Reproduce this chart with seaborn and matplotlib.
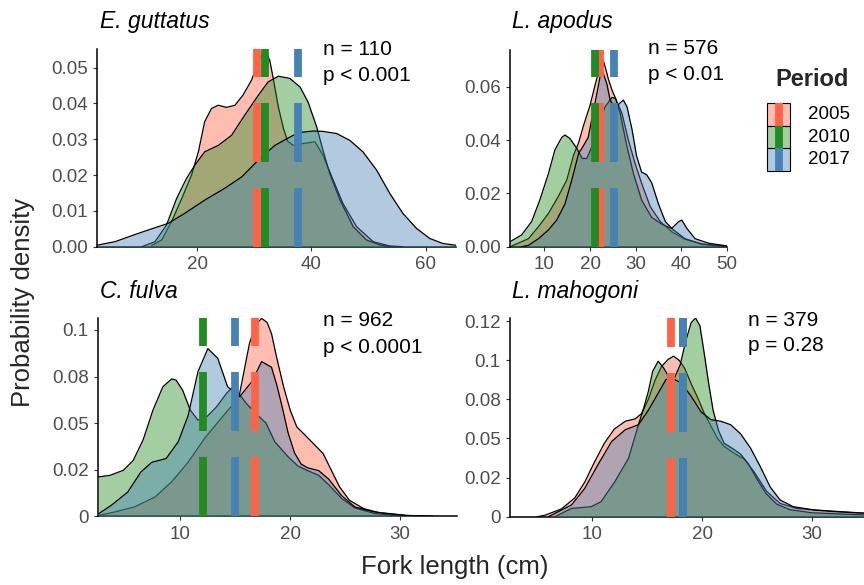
import matplotlib
matplotlib.use("Agg")
import matplotlib.pyplot as plt
import seaborn as sns
import pandas as pd
from matplotlib.patches import Rectangle
from matplotlib.lines import Line2D

# ---------------- data ----------------
periods = ["2005", "2010", "2017"]
line_colors = ["#FF6347", "#228B22", "#4682B4"]

species = ["E. guttatus", "L. apodus", "C. fulva", "L. mahogoni"]
n_labels = ["n = 110", "n = 576", "n = 962", "n = 379"]
p_labels = ["p < 0.001", "p < 0.01", "p < 0.0001", "p = 0.28"]

# E. guttatus density curves
eg_x_2005 = [12.0, 13.8, 15.5, 17.3, 19.0, 20.2, 21.3, 22.5, 23.7, 25.1, 26.6, 28.0, 29.5, 30.7, 31.8,
             32.7, 33.3, 34.2, 35.1, 35.8, 36.8, 38.5, 40.6, 42.0, 43.8, 45.5, 47.9, 50.8, 53.7, 56.0]
eg_y_2005 = [0.0003, 0.0019, 0.007, 0.0135, 0.020, 0.0265, 0.0349, 0.0386, 0.0395, 0.0389, 0.0395, 0.0423,
             0.0465, 0.0516, 0.0550, 0.052, 0.047, 0.039, 0.033, 0.0295, 0.0283, 0.0288, 0.0293, 0.0256,
             0.0186, 0.0121, 0.0056, 0.0014, 0.0002, 0.0]
eg_x_2010 = [10.3, 12.6, 14.6, 16.4, 18.1, 19.6, 21.3, 23.7, 26.0, 28.3, 30.7, 32.4, 34.2, 36.2, 38.0,
             39.4, 40.9, 42.0, 43.2, 45.0, 47.3, 49.6, 52.0, 54.0]
eg_y_2010 = [0.0, 0.0014, 0.006, 0.0135, 0.019, 0.0228, 0.0265, 0.0283, 0.0311, 0.0367, 0.0423, 0.046,
             0.0476, 0.047, 0.0446, 0.0404, 0.0335, 0.027, 0.0204, 0.013, 0.0056, 0.0019, 0.0005, 0.0]
eg_x_2017 = [2.4, 5.6, 9.1, 12.6, 14.9, 17.8, 21.3, 24.8, 27.8, 30.7, 33.6, 36.8, 38.5, 40.3, 42.0,
             44.4, 46.7, 49.0, 51.4, 53.7, 56.0, 58.4, 60.7, 63.0, 65.3]
eg_y_2017 = [0.0004, 0.0014, 0.0034, 0.0053, 0.0065, 0.0093, 0.013, 0.0163, 0.0195, 0.0242, 0.0283,
             0.0311, 0.032, 0.0323, 0.0322, 0.0316, 0.0297, 0.0265, 0.0214, 0.0149, 0.0093, 0.0051,
             0.0023, 0.0009, 0.0004]

# L. apodus density curves
la_x_2005 = [2.5, 6.5, 8.7, 10.9, 13.1, 14.9, 16.4, 17.5, 18.6, 20.0, 21.1, 22.0, 22.7, 23.4, 24.0,
             24.8, 25.9, 27.0, 28.4, 29.9, 31.3, 33.2, 35.4, 37.9, 40.8, 44.5, 48.9, 50.0]
la_y_2005 = [0.0, 0.003, 0.0075, 0.0125, 0.019, 0.025, 0.0344, 0.039, 0.0456, 0.053, 0.0606, 0.0665,
             0.0710, 0.067, 0.063, 0.0588, 0.0544, 0.050, 0.040, 0.031, 0.0238, 0.015, 0.0094, 0.0056,
             0.0028, 0.001, 0.0002, 0.0001]
la_x_2010 = [2.5, 5.0, 7.2, 9.0, 10.9, 12.3, 13.8, 14.5, 15.6, 17.1, 18.3, 19.3, 20.4, 21.8, 23.3,
             24.8, 25.6, 26.6, 28.1, 29.5, 31.3, 33.5, 35.7, 37.9, 40.8, 44.5, 48.9, 50.0]
la_y_2010 = [0.0019, 0.0044, 0.0094, 0.0175, 0.0275, 0.0363, 0.041, 0.0419, 0.0406, 0.0369, 0.0331,
             0.0331, 0.0375, 0.046, 0.0525, 0.056, 0.0556, 0.050, 0.0375, 0.0275, 0.0175, 0.011,
             0.0085, 0.0068, 0.003, 0.001, 0.0002, 0.0001]
la_x_2017 = [5.0, 6.5, 8.7, 10.9, 12.7, 14.5, 16.0, 17.5, 18.6, 19.6, 21.1, 22.2, 22.7, 23.7, 24.4,
             25.5, 26.6, 27.3, 28.1, 29.2, 30.2, 31.3, 32.4, 33.5, 35.0, 36.5, 37.9, 39.4, 40.1,
             41.2, 43.0, 46.0, 49.6, 50.0]
la_y_2017 = [0.0, 0.0005, 0.003, 0.0063, 0.010, 0.016, 0.025, 0.035, 0.038, 0.041, 0.054, 0.0638,
             0.066, 0.061, 0.055, 0.052, 0.054, 0.055, 0.0525, 0.044, 0.034, 0.028, 0.027, 0.024,
             0.016, 0.0094, 0.0069, 0.0094, 0.010, 0.0069, 0.003, 0.0013, 0.0004, 0.0003]

# C. fulva density curves
cf_x_2005 = [2.5, 4.0, 5.8, 7.7, 9.2, 10.7, 12.2, 13.7, 15.0, 15.4, 15.8, 16.3, 16.9, 17.4, 17.9,
             18.3, 18.75, 19.4, 20.0, 20.6, 21.5, 22.4, 23.0, 23.6, 24.5, 25.4, 26.7, 28.2, 30.6, 33.0]
cf_y_2005 = [0.0004, 0.0023, 0.005, 0.0104, 0.0185, 0.029, 0.0418, 0.0525, 0.0615, 0.066, 0.078,
             0.093, 0.103, 0.1062, 0.104, 0.098, 0.0857, 0.0695, 0.057, 0.048, 0.0427, 0.0373,
             0.0337, 0.0265, 0.0158, 0.0086, 0.0041, 0.0018, 0.0004, 0.0]
cf_x_2010 = [2.5, 3.6, 4.8, 5.7, 6.6, 7.5, 8.4, 9.2, 9.6, 10.2, 10.9, 11.6, 12.4, 13.3, 14.2, 14.65,
             15.3, 16.0, 16.9, 17.8, 18.6, 19.8, 20.7, 21.6, 22.6, 23.5, 24.7, 25.9, 27.7, 30.0, 32.0]
cf_y_2010 = [0.0211, 0.022, 0.0247, 0.030, 0.041, 0.057, 0.0695, 0.0737, 0.0731, 0.0677, 0.057,
             0.0516, 0.0534, 0.0588, 0.066, 0.0686, 0.066, 0.0606, 0.055, 0.050, 0.040, 0.032, 0.027,
             0.0245, 0.022, 0.017, 0.0095, 0.0045, 0.0015, 0.0003, 0.0]
cf_x_2017 = [2.5, 3.7, 5.2, 6.4, 7.4, 8.7, 9.8, 10.7, 11.6, 12.5, 13.4, 14.3, 15.4, 16.5, 17.4, 18.3,
             18.8, 19.3, 19.8, 20.4, 21.0, 21.6, 22.6, 23.5, 24.7, 25.9, 27.7, 30.6, 33.0]
cf_y_2017 = [0.0012, 0.0059, 0.013, 0.0238, 0.029, 0.031, 0.040, 0.054, 0.0776, 0.090, 0.0848,
             0.0695, 0.0642, 0.0722, 0.083, 0.080, 0.070, 0.058, 0.045, 0.034, 0.028, 0.026, 0.0245,
             0.020, 0.011, 0.005, 0.0023, 0.0005, 0.0]

# L. mahogoni density curves
lm_x_2005 = [5.0, 5.7, 7.2, 8.4, 9.3, 10.2, 11.1, 12.0, 13.0, 13.9, 14.5, 15.1, 15.7, 16.3, 16.9,
             17.4, 17.9, 18.4, 19.0, 19.6, 20.2, 20.8, 21.4, 22.0, 22.9, 23.8, 24.7, 25.9, 27.1,
             28.6, 32.0, 35.2]
lm_y_2005 = [0.0, 0.001, 0.005, 0.012, 0.022, 0.035, 0.047, 0.056, 0.061, 0.0625, 0.066, 0.075,
             0.087, 0.096, 0.1005, 0.1026, 0.100, 0.095, 0.085, 0.076, 0.066, 0.058, 0.05, 0.045,
             0.0406, 0.037, 0.029, 0.016, 0.0085, 0.0053, 0.0032, 0.002]
lm_x_2010 = [6.6, 8.1, 9.9, 10.8, 12.05, 13.3, 14.2, 14.7, 15.1, 15.5, 16.0, 16.5, 17.0, 17.5, 18.0,
             18.5, 19.0, 19.4, 19.8, 20.2, 20.6, 21.0, 21.5, 22.0, 22.9, 23.5, 24.2, 25.0, 25.8,
             26.8, 28.0, 30.0, 35.2]
lm_y_2010 = [0.0, 0.0053, 0.0064, 0.0096, 0.0224, 0.0374, 0.0588, 0.070, 0.080, 0.093, 0.0994,
             0.095, 0.089, 0.089, 0.097, 0.112, 0.124, 0.127, 0.122, 0.104, 0.085, 0.068, 0.055,
             0.047, 0.043, 0.040, 0.034, 0.024, 0.015, 0.008, 0.0045, 0.0025, 0.001]
lm_x_2017 = [6.0, 8.1, 9.3, 10.5, 11.75, 13.0, 14.2, 15.1, 16.0, 16.7, 17.2, 18.1, 19.0, 19.9, 20.8,
             21.7, 22.6, 23.5, 24.4, 25.3, 26.2, 27.1, 28.3, 30.2, 35.2]
lm_y_2017 = [0.0, 0.0075, 0.018, 0.0331, 0.048, 0.0556, 0.0588, 0.068, 0.079, 0.0876, 0.0887,
             0.0855, 0.077, 0.067, 0.062, 0.061, 0.0588, 0.053, 0.044, 0.032, 0.019, 0.0107, 0.0064,
             0.0043, 0.0021]

# period mean lengths (dashed vertical lines), order 2005, 2010, 2017
eg_means = [30.4, 31.9, 37.6]
la_means = [22.2, 21.1, 25.2]
cf_means = [16.75, 12.05, 14.95]
lm_means = [17.2, 18.3, 18.3]

# axis ticks
eg_xticks = [20, 40, 60]
la_xticks = [10, 20, 30, 40, 50]
cf_xticks = [10, 20, 30]
lm_xticks = [10, 20, 30]
eg_yticks = [0.0, 0.01, 0.02, 0.03, 0.04, 0.05]
eg_ylabels = ["0.00", "0.01", "0.02", "0.03", "0.04", "0.05"]
la_yticks = [0.0, 0.02, 0.04, 0.06]
la_ylabels = ["0.00", "0.02", "0.04", "0.06"]
cf_yticks = [0.0, 0.025, 0.05, 0.075, 0.1]
cf_ylabels = ["0", "0.02", "0.05", "0.08", "0.1"]
lm_yticks = [0.0, 0.025, 0.05, 0.075, 0.1, 0.125]
lm_ylabels = ["0", "0.02", "0.05", "0.08", "0.1", "0.12"]

curves = {
    "E. guttatus": [(eg_x_2005, eg_y_2005), (eg_x_2010, eg_y_2010), (eg_x_2017, eg_y_2017)],
    "L. apodus": [(la_x_2005, la_y_2005), (la_x_2010, la_y_2010), (la_x_2017, la_y_2017)],
    "C. fulva": [(cf_x_2005, cf_y_2005), (cf_x_2010, cf_y_2010), (cf_x_2017, cf_y_2017)],
    "L. mahogoni": [(lm_x_2005, lm_y_2005), (lm_x_2010, lm_y_2010), (lm_x_2017, lm_y_2017)],
}
means = {"E. guttatus": eg_means, "L. apodus": la_means, "C. fulva": cf_means, "L. mahogoni": lm_means}
xticks = {"E. guttatus": eg_xticks, "L. apodus": la_xticks, "C. fulva": cf_xticks, "L. mahogoni": lm_xticks}
yticks = {"E. guttatus": (eg_yticks, eg_ylabels), "L. apodus": (la_yticks, la_ylabels),
          "C. fulva": (cf_yticks, cf_ylabels), "L. mahogoni": (lm_yticks, lm_ylabels)}

# ---------------- styling / layout ----------------
sns.set_theme(style="ticks")
plt.rcParams['font.family'] = ['Liberation Sans', 'DejaVu Sans']
plt.rcParams['lines.scale_dashes'] = False

W, H = 864, 585
fig = plt.figure(figsize=(8.64, 5.85), dpi=100)
fig.patch.set_facecolor("white")

def px_axes(l, t, r, b):
    return fig.add_axes([l / W, 1 - b / H, (r - l) / W, (b - t) / H])

def fx(x):
    return x / W

def fy(y):
    return 1 - y / H

panel_box = {
    "E. guttatus": (97, 49, 456, 246.7),
    "L. apodus": (510, 50, 727, 246.7),
    "C. fulva": (98, 318, 457, 516.3),
    "L. mahogoni": (510, 318, 869, 516.7),
}
xlims = {"E. guttatus": (2.45, 65.3), "L. apodus": (2.47, 50.0),
         "C. fulva": (2.49, 35.2), "L. mahogoni": (2.5, 35.2)}
ylims = {"E. guttatus": 0.0552, "L. apodus": 0.0738, "C. fulva": 0.1064, "L. mahogoni": 0.127}

title_pos = {"E. guttatus": (100, 28), "L. apodus": (512, 28), "C. fulva": (100, 298), "L. mahogoni": (512, 298)}
ann_pos = {"E. guttatus": (323, 55, 81), "L. apodus": (648, 54, 80),
           "C. fulva": (323, 326, 353), "L. mahogoni": (748, 326, 351)}

ALPHA = 0.42
for k, sp in enumerate(species):
    ax = px_axes(*panel_box[sp])
    ax.set_facecolor("white")
    for i, per in enumerate(periods):
        x, y = curves[sp][i]
        df = pd.DataFrame({"length": x, "density": y})
        ax.fill_between(df["length"], df["density"], 0, color=line_colors[i], alpha=ALPHA,
                        lw=0, zorder=1 + 2 * i)
        sns.lineplot(data=df, x="length", y="density", color="black", lw=0.9, ax=ax,
                     sort=False, estimator=None, zorder=2 + 2 * i)
    for i, per in enumerate(periods):
        ax.axvline(means[sp][i], color=line_colors[i], lw=5.6, linestyle=(0, (42.5, 18.7)),
                   solid_capstyle="butt", dash_capstyle="butt", zorder=10)
    ax.set_xlim(*xlims[sp])
    ax.set_ylim(0, ylims[sp])
    ax.set_xticks(xticks[sp])
    yt, yl = yticks[sp]
    ax.set_yticks(yt)
    ax.set_yticklabels(yl)
    ax.set_xlabel("")
    ax.set_ylabel("")
    sns.despine(ax=ax)
    for s in ["left", "bottom"]:
        ax.spines[s].set_linewidth(1.1)
        ax.spines[s].set_color("black")
    ax.tick_params(axis="both", labelsize=13.5, labelcolor="#4D4D4D", color="#333333",
                   length=3.2, width=0.8, pad=3.5)
    ax.grid(False)
    tx, ty = title_pos[sp]
    fig.text(fx(tx), fy(ty), sp, fontsize=16.5, style="italic", color="black", va="baseline", ha="left")
    axn, by1, by2 = ann_pos[sp]
    fig.text(fx(axn), fy(by1), n_labels[k], fontsize=15, color="black", va="baseline", ha="left")
    fig.text(fx(axn), fy(by2), p_labels[k], fontsize=15, color="black", va="baseline", ha="left")

# axis titles
fig.text(fx(23), fy(302), "Probability density", rotation=90, fontsize=18.5, va="center", ha="center")
fig.text(fx(455), fy(567), "Fork length (cm)", fontsize=18.5, va="center", ha="center")

# legend (manual, ggplot style key: filled box + vertical line)
fig.text(fx(775), fy(85.5), "Period", fontsize=17, fontweight="bold", va="baseline", ha="left")
rows = [(103.3, 126.0), (126.0, 148.3), (148.3, 170.5)]
for i, per in enumerate(periods):
    t, b = rows[i]
    rect = Rectangle((fx(767), fy(b)), (790 - 767) / W, (b - t) / H, transform=fig.transFigure,
                     facecolor=line_colors[i], alpha=ALPHA, edgecolor="none")
    fig.add_artist(rect)
    border = Rectangle((fx(767), fy(b)), (790 - 767) / W, (b - t) / H, transform=fig.transFigure,
                       facecolor="none", edgecolor="black", lw=0.8)
    fig.add_artist(border)
    ln = Line2D([fx(778.5), fx(778.5)], [fy(b), fy(t)], transform=fig.transFigure,
                color=line_colors[i], lw=5.6, solid_capstyle="butt")
    fig.add_artist(ln)
    fig.text(fx(808), fy((t + b) / 2), per, fontsize=13.5, va="center", ha="left", color="black")

fig.savefig("out.png", dpi=100, facecolor="white")
